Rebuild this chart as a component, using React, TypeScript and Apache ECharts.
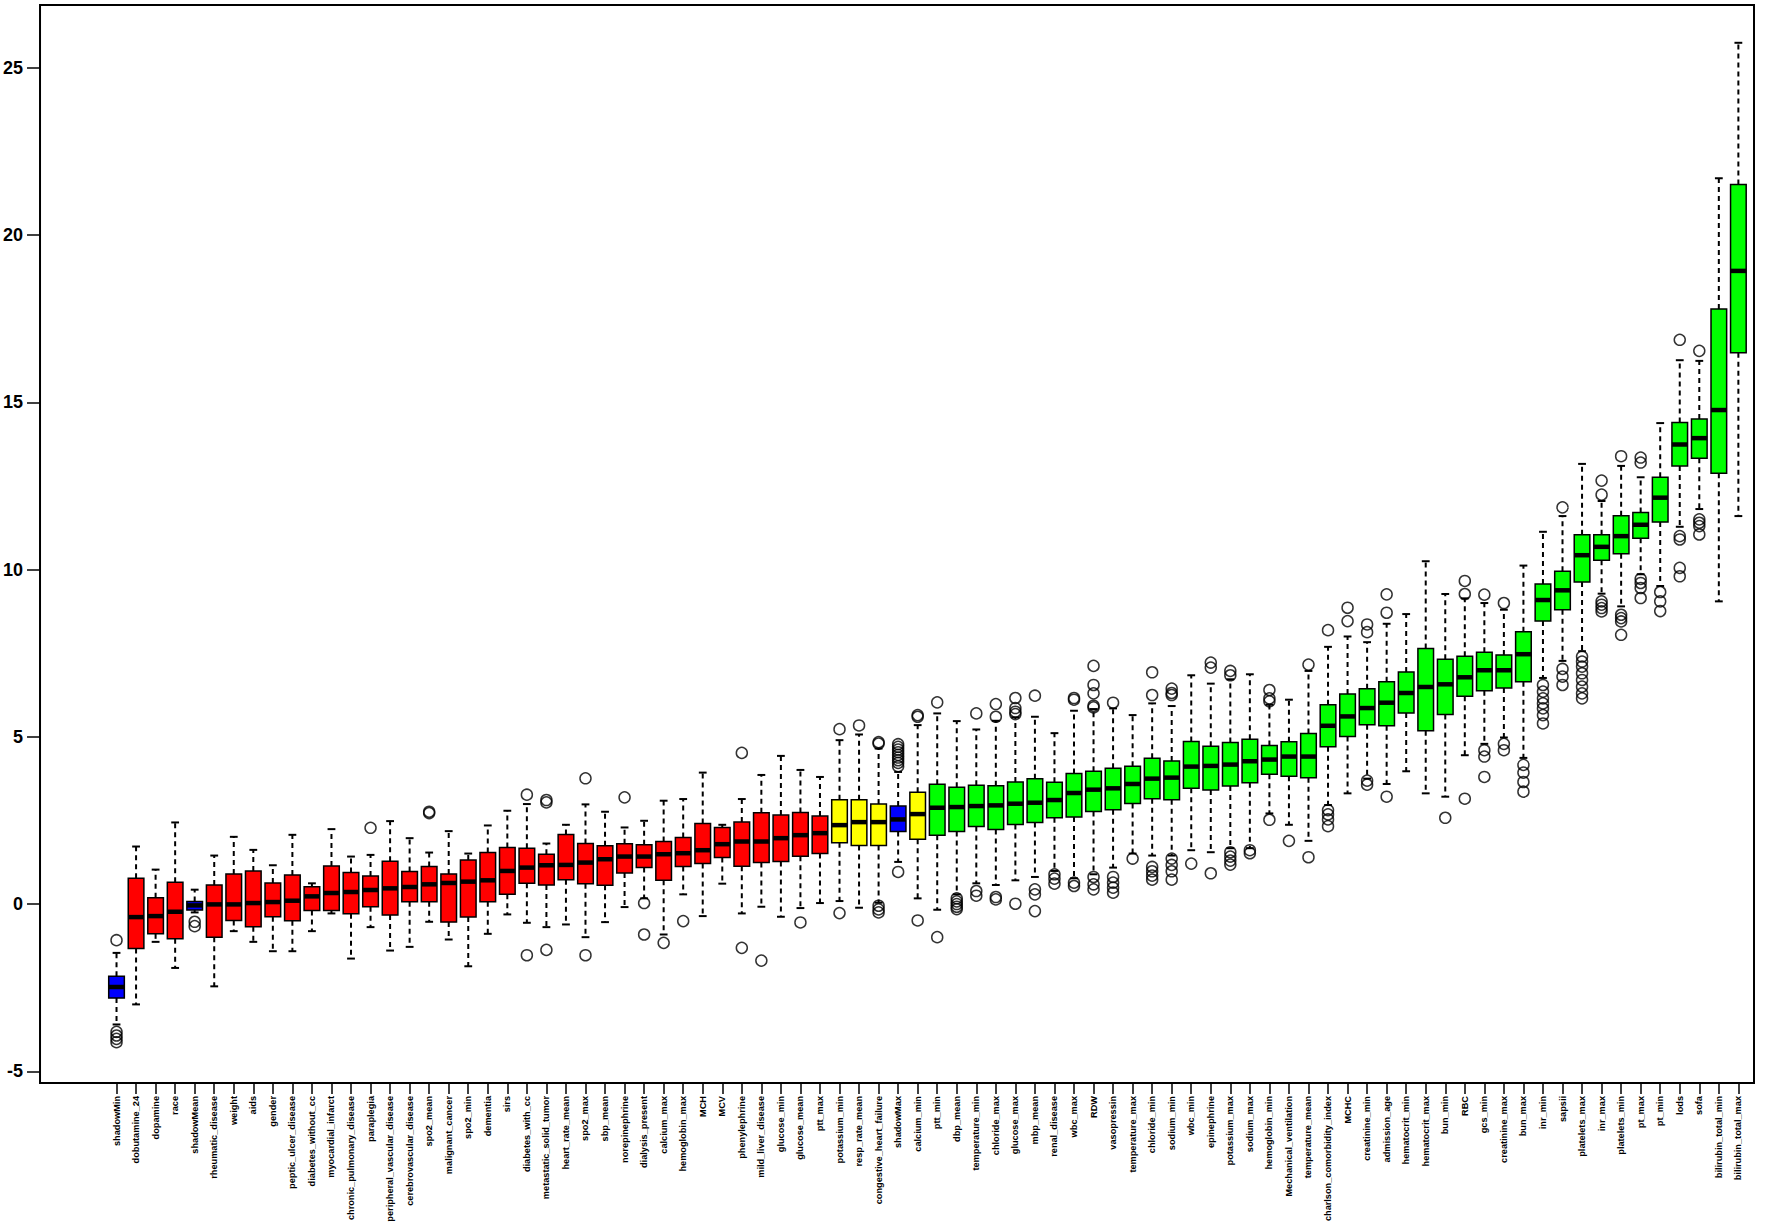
import React, { useEffect, useRef } from "react";
import * as echarts from "echarts";

const categories = [
  "shadowMin", "dobutamine_24", "dopamine", "race", "shadowMean", "rheumatic_disease", "weight", "aids", "gender",
  "peptic_ulcer_disease", "diabetes_without_cc", "myocardial_infarct", "chronic_pulmonary_disease", "paraplegia",
  "peripheral_vascular_disease", "cerebrovascular_disease", "spo2_mean", "malignant_cancer", "spo2_min", "dementia",
  "sirs", "diabetes_with_cc", "metastatic_solid_tumor", "heart_rate_mean", "spo2_max", "sbp_mean", "norepinephrine",
  "dialysis_present", "calcium_max", "hemoglobin_max", "MCH", "MCV", "phenylephrine", "mild_liver_disease",
  "glucose_min", "glucose_mean", "ptt_max", "potassium_min", "resp_rate_mean", "congestive_heart_failure",
  "shadowMax", "calcium_min", "ptt_min", "dbp_mean", "temperature_min", "chloride_max", "glucose_max", "mbp_mean",
  "renal_disease", "wbc_max", "RDW", "vasopressin", "temperature_max", "chloride_min", "sodium_min", "wbc_min",
  "epinephrine", "potassium_max", "sodium_max", "hemoglobin_min", "Mechanical_ventilation", "temperature_mean",
  "charlson_comorbidity_index", "MCHC", "creatinine_min", "admission_age", "hematocrit_min", "hematocrit_max",
  "bun_min", "RBC", "gcs_min", "creatinine_max", "bun_max", "inr_min", "sapsii", "platelets_max", "inr_max",
  "platelets_min", "pt_max", "pt_min", "lods", "sofa", "bilirubin_total_min", "bilirubin_total_max",
];

// S = shadow, R = rejected, T = tentative, C = confirmed
const decisions = [
  "S", "R", "R", "R", "S", "R", "R", "R", "R", "R", "R", "R", "R", "R", "R", "R", "R", "R", "R", "R",
  "R", "R", "R", "R", "R", "R", "R", "R", "R", "R", "R", "R", "R", "R", "R", "R", "R", "T", "T", "T",
  "S", "T", "C", "C", "C", "C", "C", "C", "C", "C", "C", "C", "C", "C", "C", "C", "C", "C", "C", "C",
  "C", "C", "C", "C", "C", "C", "C", "C", "C", "C", "C", "C", "C", "C", "C", "C", "C", "C", "C", "C",
  "C", "C", "C", "C",
];

const whiskerLow = [
  -3.6, -3.0, -1.13, -1.91, -0.25, -2.46, -0.81, -1.13, -1.41, -1.41, -0.81, -0.28, -1.63, -0.69, -1.39, -1.28,
  -0.53, -1.06, -1.86, -0.89, -0.31, -0.56, -0.69, -0.61, -0.99, -0.54, -0.09, 0.17, -0.91, 0.29, -0.36, 0.61,
  -0.28, -0.08, -0.38, -0.12, 0.03, 0.09, -0.11, 0.04, 1.26, 0.17, -0.17, 0.29, 0.62, 0.57, 0.71, 0.81, 0.99,
  0.77, 0.89, 1.09, 1.51, 1.45, 1.45, 1.61, 1.55, 1.67, 1.67, 2.71, 2.37, 1.89, 2.96, 3.31, 3.75, 3.59, 3.97,
  3.31, 3.21, 4.45, 4.79, 4.98, 4.37, 6.76, 7.27, 7.56, 9.28, 8.9, 9.86, 9.51, 11.28, 11.81, 9.05, 11.6,
];
const q1 = [
  -2.81, -1.33, -0.89, -1.04, -0.18, -0.99, -0.49, -0.68, -0.38, -0.5, -0.19, -0.19, -0.29, -0.08, -0.33, 0.07,
  0.07, -0.54, -0.39, 0.07, 0.29, 0.62, 0.57, 0.73, 0.61, 0.56, 0.93, 1.09, 0.71, 1.12, 1.21, 1.39, 1.13, 1.24,
  1.27, 1.43, 1.51, 1.83, 1.75, 1.75, 2.17, 1.94, 2.06, 2.17, 2.32, 2.23, 2.38, 2.44, 2.58, 2.6, 2.77, 2.82, 3.01,
  3.15, 3.12, 3.46, 3.41, 3.53, 3.63, 3.88, 3.82, 3.78, 4.7, 5.01, 5.36, 5.33, 5.71, 5.18, 5.67, 6.21, 6.38, 6.46,
  6.65, 8.46, 8.8, 9.63, 10.28, 10.47, 10.94, 11.42, 13.1, 13.33, 12.88, 16.48,
];
const median = [
  -2.48, -0.39, -0.36, -0.23, -0.04, -0.01, -0.01, 0.03, 0.06, 0.1, 0.23, 0.33, 0.36, 0.42, 0.47, 0.51, 0.59,
  0.63, 0.67, 0.71, 0.99, 1.09, 1.16, 1.17, 1.24, 1.34, 1.42, 1.42, 1.49, 1.52, 1.61, 1.79, 1.87, 1.87, 1.97,
  2.06, 2.12, 2.36, 2.45, 2.45, 2.53, 2.69, 2.88, 2.9, 2.93, 2.95, 3.0, 3.03, 3.11, 3.32, 3.42, 3.46, 3.59, 3.75,
  3.78, 4.11, 4.13, 4.17, 4.27, 4.32, 4.41, 4.41, 5.33, 5.61, 5.86, 6.02, 6.31, 6.49, 6.57, 6.78, 6.99, 6.99,
  7.47, 9.09, 9.38, 10.43, 10.68, 11.0, 11.34, 12.15, 13.74, 13.93, 14.77, 18.93,
];
const q3 = [
  -2.16, 0.77, 0.19, 0.65, 0.08, 0.57, 0.9, 0.99, 0.63, 0.87, 0.52, 1.14, 0.94, 0.84, 1.28, 0.97, 1.12, 0.9,
  1.32, 1.54, 1.69, 1.67, 1.49, 2.08, 1.81, 1.74, 1.8, 1.77, 1.87, 1.99, 2.41, 2.29, 2.45, 2.73, 2.66, 2.74,
  2.63, 3.12, 3.12, 2.99, 2.93, 3.34, 3.58, 3.49, 3.55, 3.54, 3.65, 3.75, 3.64, 3.9, 3.97, 4.06, 4.12, 4.36,
  4.28, 4.86, 4.72, 4.83, 4.93, 4.74, 4.85, 5.1, 5.96, 6.28, 6.44, 6.65, 6.94, 7.64, 7.32, 7.41, 7.53, 7.45,
  8.14, 9.57, 9.95, 11.04, 11.04, 11.61, 11.71, 12.76, 14.4, 14.5, 17.79, 21.51,
];
const whiskerHigh = [
  -1.46, 1.72, 1.03, 2.44, 0.43, 1.45, 2.01, 1.62, 1.16, 2.07, 0.62, 2.24, 1.42, 1.47, 2.48, 1.97, 1.54, 2.18,
  1.51, 2.35, 2.79, 2.99, 1.81, 2.37, 2.98, 2.76, 2.29, 2.49, 3.09, 3.14, 3.93, 2.37, 3.14, 3.86, 4.43, 4.01,
  3.8, 4.9, 5.07, 4.65, 3.95, 5.35, 5.7, 5.47, 5.22, 5.48, 5.58, 5.6, 5.11, 5.78, 5.83, 5.85, 5.65, 6.0, 5.92,
  6.84, 6.59, 6.72, 6.87, 5.96, 6.11, 6.97, 7.69, 8.0, 7.83, 8.38, 8.67, 10.25, 9.27, 9.14, 9.0, 8.8, 10.12,
  11.13, 11.6, 13.16, 12.05, 13.1, 12.76, 14.38, 16.26, 16.24, 21.7, 25.75,
];
const outliers: number[][] = [
  [-1.08, -3.82, -3.93, -4.03, -4.13], [], [], [], [-0.53, -0.66], [], [], [], [], [], [], [], [], [2.28], [], [],
  [2.76, 2.72], [], [], [], [], [3.27, -1.53], [3.11, 3.04, -1.37], [], [3.76, -1.53], [], [3.19], [0.03, -0.91],
  [-1.16], [-0.51], [], [], [4.52, -1.31], [-1.69], [], [-0.55], [], [5.23, -0.27], [5.34],
  [4.84, 4.8, -0.05, -0.16, -0.25],
  [4.78, 4.7, 4.62, 4.54, 4.46, 4.38, 4.3, 4.22, 4.12, 0.96],
  [5.65, 5.6, -0.49], [6.03, -0.99], [0.17, 0.08, 0.0, -0.08, -0.15], [5.7, 0.39, 0.25], [5.98, 5.6, 0.21, 0.14],
  [6.16, 5.86, 5.75, 5.68, 0.01], [6.23, 0.44, 0.29, -0.21], [0.89, 0.76, 0.61], [6.16, 6.11, 0.64, 0.54],
  [7.12, 6.55, 6.3, 5.93, 5.88, 0.81, 0.59, 0.44], [6.02, 0.81, 0.64, 0.49, 0.34], [1.36],
  [6.93, 6.25, 1.11, 0.98, 0.85, 0.73], [6.44, 6.31, 6.25, 1.36, 1.17, 0.98, 0.73], [1.21], [7.22, 7.07, 0.92],
  [6.97, 6.84, 1.55, 1.42, 1.3, 1.18], [1.61, 1.52], [6.4, 6.15, 6.06, 2.52], [1.89], [7.16, 1.4],
  [8.19, 2.81, 2.68, 2.53, 2.33], [8.86, 8.46], [8.36, 8.13, 3.69, 3.57], [9.26, 8.71, 3.21], [], [], [2.58],
  [9.66, 9.27, 3.15], [9.25, 4.6, 4.41, 3.8], [9.0, 4.79, 4.6], [4.16, 3.93, 3.65, 3.36],
  [6.55, 6.35, 6.15, 6.0, 5.85, 5.65, 5.4], [11.86, 7.03, 6.8, 6.55],
  [7.4, 7.25, 7.1, 6.9, 6.7, 6.5, 6.3, 6.15], [12.66, 12.24, 9.05, 8.95, 8.85, 8.75],
  [13.39, 8.65, 8.55, 8.45, 8.05], [13.35, 13.2, 9.72, 9.6, 9.45, 9.15], [9.33, 9.05, 8.76],
  [16.87, 11.0, 10.9, 10.05, 9.8], [16.54, 11.5, 11.4, 11.3, 11.05], [], [],
];

const yTickValues = [-5, 0, 5, 10, 15, 20, 25];

const decisionColors: Record<string, string> = {
  S: "#0000FF",
  R: "#FF0000",
  T: "#FFFF00",
  C: "#00FF00",
};

const FONT = "'Liberation Sans', Arial, Helvetica, sans-serif";

export default function App() {
  const ref = useRef<HTMLDivElement>(null);

  useEffect(() => {
    if (!ref.current) return;
    const chart = echarts.init(ref.current, undefined, { renderer: "svg" });

    const positions = categories.map((_, i) => i + 1);
    const boxData = categories.map((_, i) => [
      i + 1, whiskerLow[i], q1[i], median[i], q3[i], whiskerHigh[i], i,
    ]);
    const outlierData: number[][] = [];
    outliers.forEach((arr, i) => arr.forEach((v) => outlierData.push([i + 1, v])));

    const option: any = {
      animation: false,
      backgroundColor: "#ffffff",
      grid: {
        left: 40,
        top: 5,
        right: 18,
        bottom: 143,
        show: true,
        borderColor: "#000",
        borderWidth: 2,
        backgroundColor: "transparent",
      },
      xAxis: {
        type: "value",
        position: "bottom",
        min: -2.915,
        max: 84.8,
        axisLine: { show: false, onZero: false },
        splitLine: { show: false },
        axisTick: {
          show: true,
          length: 11,
          customValues: positions,
          lineStyle: { color: "#000", width: 1.5 },
        },
        axisLabel: {
          show: true,
          customValues: positions,
          rotate: 90,
          margin: 13,
          fontSize: 9.2,
          fontWeight: "bold",
          fontFamily: FONT,
          color: "#000",
          formatter: (v: number) => categories[Math.round(v) - 1] ?? "",
        },
      },
      yAxis: {
        type: "value",
        position: "left",
        min: -5.35,
        max: 26.88,
        axisLine: { show: false, onZero: false },
        splitLine: { show: false },
        axisTick: {
          show: true,
          length: 13,
          customValues: yTickValues,
          lineStyle: { color: "#000", width: 1.5 },
        },
        axisLabel: {
          show: true,
          customValues: yTickValues,
          margin: 17,
          fontSize: 18,
          fontWeight: "bold",
          fontFamily: FONT,
          color: "#000",
        },
      },
      series: [
        {
          type: "custom",
          data: boxData,
          encode: { x: 0, y: [1, 2, 3, 4, 5] },
          renderItem: (params: any, api: any) => {
            const x = api.value(0);
            const idx = api.value(6);
            const lo = api.coord([x, api.value(1)]);
            const b1 = api.coord([x, api.value(2)]);
            const md = api.coord([x, api.value(3)]);
            const b3 = api.coord([x, api.value(4)]);
            const hi = api.coord([x, api.value(5)]);
            const w = api.size([0.8, 0])[0];
            const cap = w * 0.5;
            const cx = lo[0];
            const color = decisionColors[decisions[idx]];
            const dash = { stroke: "#000", lineWidth: 2, lineDash: [5, 4], fill: null };
            const solid = { stroke: "#000", lineWidth: 2, fill: null };
            return {
              type: "group",
              children: [
                { type: "line", shape: { x1: cx, y1: b3[1], x2: cx, y2: hi[1] }, style: dash },
                { type: "line", shape: { x1: cx, y1: b1[1], x2: cx, y2: lo[1] }, style: dash },
                { type: "line", shape: { x1: cx - cap / 2, y1: hi[1], x2: cx + cap / 2, y2: hi[1] }, style: solid },
                { type: "line", shape: { x1: cx - cap / 2, y1: lo[1], x2: cx + cap / 2, y2: lo[1] }, style: solid },
                {
                  type: "rect",
                  shape: { x: cx - w / 2, y: b3[1], width: w, height: b1[1] - b3[1] },
                  style: { fill: color, stroke: "#000", lineWidth: 1.5 },
                },
                {
                  type: "line",
                  shape: { x1: cx - w / 2, y1: md[1], x2: cx + w / 2, y2: md[1] },
                  style: { stroke: "#000", lineWidth: 4.5 },
                },
              ],
            };
          },
        },
        {
          type: "scatter",
          data: outlierData,
          symbol: "circle",
          symbolSize: 11,
          itemStyle: { color: "rgba(0,0,0,0)", borderColor: "#000", borderWidth: 1.5 },
          z: 3,
        },
      ],
    };

    chart.setOption(option);
    return () => chart.dispose();
  }, []);

  return (
    <div
      ref={ref}
      style={{ position: "absolute", left: 0, top: 0, width: 1772, height: 1226, background: "#fff" }}
    />
  );
}
